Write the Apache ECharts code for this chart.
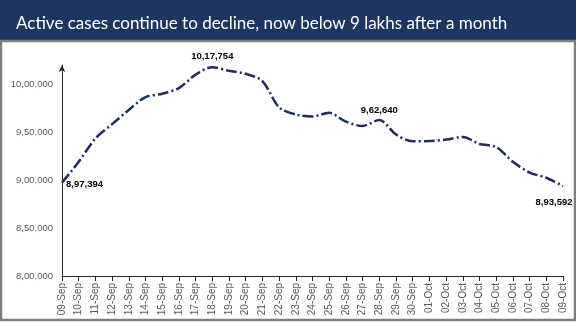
<!DOCTYPE html>
<html>
<head>
<meta charset="utf-8">
<script src="https://cdn.jsdelivr.net/npm/echarts@6/dist/echarts.min.js"></script>
<style>
  html, body { margin: 0; padding: 0; background: #ffffff; }
  #chart { width: 576px; height: 324px; }
</style>
</head>
<body>
<div id="chart"></div>
<script>
// Daily active COVID-19 cases, 09-Sep to 09-Oct
const dates = [
  '09-Sep','10-Sep','11-Sep','12-Sep','13-Sep','14-Sep','15-Sep','16-Sep','17-Sep','18-Sep',
  '19-Sep','20-Sep','21-Sep','22-Sep','23-Sep','24-Sep','25-Sep','26-Sep','27-Sep','28-Sep',
  '29-Sep','30-Sep','01-Oct','02-Oct','03-Oct','04-Oct','05-Oct','06-Oct','07-Oct','08-Oct','09-Oct'
];
const activeCases = [
  897394, 919018, 943480, 958316, 973175, 986598, 990061, 995933, 1009976, 1017754,
  1013964, 1010824, 1003299, 975861, 968377, 966382, 970116, 960969, 956402, 962640,
  947576, 940441, 940705, 942217, 944996, 937625, 934427, 919023, 907883, 902425, 893592
];
// Points whose value is written next to the line
const labelledIdx = [0, 9, 19, 30];

const yMin = 800000;
const yMax = 1020000;
const yStep = 50000;

// Indian digit grouping: 10,17,754
function indianFormat(n) {
  const s = String(Math.round(n));
  if (s.length <= 3) return s;
  const last3 = s.slice(-3);
  let rest = s.slice(0, -3);
  const parts = [];
  while (rest.length > 2) {
    parts.unshift(rest.slice(-2));
    rest = rest.slice(0, -2);
  }
  if (rest.length) parts.unshift(rest);
  return parts.join(',') + ',' + last3;
}

// Label anchor relative to the point's marker box
const labelPlacement = {
  0:  { position: [5, 3], align: 'left', verticalAlign: 'middle' },
  9:  { position: 'top', distance: 5 },
  19: { position: 'top', distance: 4 },
  30: { position: [-8, 17], align: 'center', verticalAlign: 'middle' }
};

const seriesData = activeCases.map((v, i) => {
  const item = { value: v };
  if (labelledIdx.indexOf(i) >= 0) {
    item.label = Object.assign({
      show: true,
      formatter: p => indianFormat(p.value),
      color: '#000000',
      fontWeight: 'bold',
      fontSize: 9.5,
      fontFamily: 'Liberation Sans, Arial, sans-serif'
    }, labelPlacement[i]);
  }
  return item;
});

const chart = echarts.init(document.getElementById('chart'), null, { renderer: 'canvas' });

chart.setOption({
  animation: false,
  backgroundColor: '#ffffff',
  title: {
    text: 'Active cases continue to decline, now below 9 lakhs after a month',
    left: 11,
    top: 10,
    textStyle: {
      color: '#ffffff',
      fontSize: 17,
      fontWeight: 'normal',
      fontFamily: 'Lato, "Open Sans", sans-serif'
    }
  },
  graphic: [
    {
      type: 'rect',
      z: -1,
      shape: { x: 0, y: 0, width: 576, height: 41 },
      style: { fill: '#1f3561' }
    },
    {
      type: 'rect',
      z: -1,
      shape: { x: 1, y: 41, width: 574, height: 279 },
      style: { fill: 'none', stroke: '#7f7f7f', lineWidth: 2.5 }
    }
  ],
  grid: { left: 62, right: 13, top: 65, bottom: 48, containLabel: false },
  xAxis: {
    type: 'category',
    data: dates,
    boundaryGap: false,
    axisLine: { lineStyle: { color: '#262626', width: 1 } },
    axisTick: { show: true, alignWithLabel: true, length: 5, lineStyle: { color: '#262626' } },
    axisLabel: {
      interval: 0,
      rotate: 90,
      margin: 7,
      color: '#595959',
      fontSize: 10,
      fontFamily: 'Liberation Sans, Arial, sans-serif'
    },
    splitLine: { show: false }
  },
  yAxis: {
    type: 'value',
    min: yMin,
    max: yMax,
    interval: yStep,
    axisLine: {
      show: true,
      symbol: ['none', 'arrow'],
      symbolSize: [5, 7],
      lineStyle: { color: '#262626', width: 1 }
    },
    axisTick: { show: false },
    splitLine: { show: false },
    axisLabel: {
      showMaxLabel: false,
      margin: 9,
      color: '#595959',
      fontSize: 9.5,
      fontFamily: 'Liberation Sans, Arial, sans-serif',
      formatter: v => indianFormat(v)
    }
  },
  series: [
    {
      type: 'line',
      data: seriesData,
      smooth: 0.3,
      symbol: 'circle',
      symbolSize: 2,
      showSymbol: true,
      itemStyle: { color: 'rgba(0,0,0,0)' },
      lineStyle: { color: '#1c2d5e', width: 2.5, type: [11, 3, 2, 3] },
      labelLayout: { hideOverlap: false },
      emphasis: { disabled: true }
    }
  ]
});
</script>
</body>
</html>
